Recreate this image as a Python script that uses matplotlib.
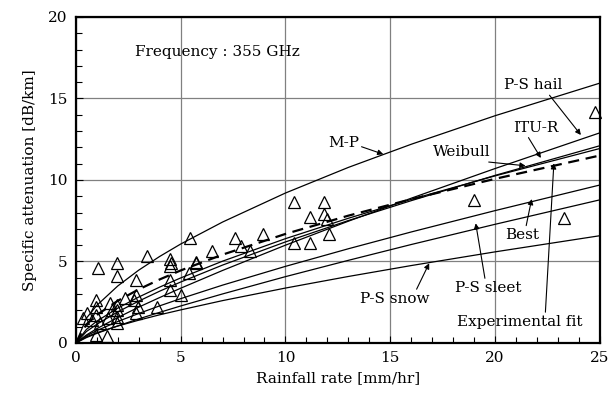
import numpy as np
import matplotlib
matplotlib.use("Agg")
import matplotlib.pyplot as plt
from matplotlib.ticker import MultipleLocator

plt.rcParams['font.family'] = ['DejaVu Serif']
plt.rcParams['font.size'] = 11

# Rainfall rate points where the model curves were read [mm/hr]
R = [0, 0.5, 1, 2, 3, 4, 5, 7, 10, 13, 16, 20, 25]

# Specific attenuation of each model [dB/km]
mp       = [0, 1.52, 2.31, 3.50, 4.47, 5.31, 6.07, 7.42, 9.20, 10.77, 12.19, 13.94, 15.94]
ps_hail  = [0, 0.49, 0.88, 1.56, 2.20, 2.79, 3.36, 4.45, 6.00, 7.47, 8.88, 10.70, 12.89]
itu_r    = [0, 0.70, 1.15, 1.91, 2.57, 3.18, 3.74, 4.78, 6.20, 7.51, 8.73, 10.28, 12.10]
weibull  = [0, 0.83, 1.34, 2.14, 2.82, 3.43, 3.99, 5.02, 6.40, 7.65, 8.81, 10.25, 11.93]
best     = [0, 0.44, 0.76, 1.32, 1.81, 2.28, 2.72, 3.55, 4.70, 5.78, 6.81, 8.12, 9.69]
ps_sleet = [0, 0.33, 0.59, 1.05, 1.48, 1.88, 2.27, 3.01, 4.07, 5.07, 6.04, 7.28, 8.78]
ps_snow  = [0, 0.38, 0.63, 1.04, 1.40, 1.73, 2.03, 2.60, 3.37, 4.08, 4.75, 5.59, 6.58]
exp_fit  = [0, 1.14, 1.72, 2.59, 3.29, 3.90, 4.45, 5.42, 6.69, 7.81, 8.82, 10.07, 11.50]

# Measured points
rain_meas = [24.76, 23.3, 19.0, 10.43, 11.83, 11.19, 11.83, 11.98, 12.06, 10.4, 11.19,
             8.92, 7.6, 7.86, 8.33, 6.49, 5.75, 5.43, 1.06, 1.94, 1.97, 3.41, 4.5, 4.48,
             5.71, 5.4, 2.89, 4.48, 4.5, 5.03, 3.87, 2.89, 2.97, 2.89, 1.94, 1.94,
             0.98, 0.98, 0.98, 0.98, 1.49, 0.51, 0.35, 1.62, 1.94, 1.97, 1.7, 0.75,
             1.14, 1.54, 2.33, 2.78, 4.52]
att_meas = [14.2, 7.67, 8.8, 8.67, 8.67, 7.75, 7.9, 7.6, 6.69, 6.11, 6.11,
            6.69, 6.42, 5.97, 5.66, 5.64, 4.99, 6.44, 4.58, 4.93, 4.11, 5.34, 5.13, 4.72,
            4.93, 4.31, 3.87, 3.87, 3.25, 2.94, 2.19, 2.94, 2.23, 1.82, 1.25, 1.61,
            2.64, 2.19, 1.72, 0.49, 0.43, 1.82, 1.51, 2.43, 2.33, 2.02, 2.02, 1.41,
            1.21, 1.51, 2.74, 2.64, 4.9]

fig = plt.figure(figsize=(6.12, 4.04), dpi=100)
ax = fig.add_axes([0.124, 0.151, 0.856, 0.807])

for y in [mp, ps_hail, itu_r, weibull, best, ps_sleet, ps_snow]:
    ax.plot(R, y, color='black', lw=0.9)
ax.plot(R, exp_fit, color='black', lw=1.6, ls=(0, (5, 3)))

ax.plot(rain_meas, att_meas, ls='none', marker='^', ms=9, mfc='none',
        mec='black', mew=0.9, clip_on=False)

ax.set_xlim(0, 25)
ax.set_ylim(0, 20)
ax.xaxis.set_major_locator(MultipleLocator(5))
ax.yaxis.set_major_locator(MultipleLocator(5))
ax.xaxis.set_minor_locator(MultipleLocator(1))
ax.yaxis.set_minor_locator(MultipleLocator(1))
ax.tick_params(which='both', direction='in', top=False, right=False)
ax.tick_params(which='major', length=5, width=0.8, pad=6)
ax.tick_params(which='minor', length=4, width=0.8)
ax.grid(True, which='major', color='#808080', lw=0.9)
for s in ax.spines.values():
    s.set_linewidth(1.6)

ax.set_xlabel("Rainfall rate [mm/hr]", labelpad=4)
ax.set_ylabel("Specific attenuation [dB/km]", labelpad=8)

ax.text(2.8, 17.85, "Frequency : 355 GHz", va='center', ha='left', fontsize=11)

arrow = dict(arrowstyle='-|>', color='black', lw=0.8, mutation_scale=8, shrinkA=0, shrinkB=0)
ax.annotate("M-P", xy=(14.67, 11.58), xytext=(12.76, 12.27), ha='center', va='center',
            arrowprops=dict(arrow, relpos=(1, 0.3)))
ax.annotate("P-S hail", xy=(24.1, 12.76), xytext=(21.8, 15.8), ha='center', va='center',
            arrowprops=dict(arrow, relpos=(0.75, 0)))
ax.annotate("ITU-R", xy=(22.19, 11.35), xytext=(21.95, 13.2), ha='center', va='center',
            arrowprops=dict(arrow, relpos=(0.3, 0)))
ax.annotate("Weibull", xy=(21.46, 10.87), xytext=(18.4, 11.7), ha='center', va='center',
            arrowprops=dict(arrow, relpos=(0.5, 0)))
ax.annotate("Best", xy=(21.75, 8.83), xytext=(21.3, 6.6), ha='center', va='center',
            arrowprops=dict(arrow, relpos=(0.6, 1)))
ax.annotate("P-S sleet", xy=(19.08, 7.34), xytext=(19.7, 3.37), ha='center', va='center',
            arrowprops=dict(arrow, relpos=(0.45, 1)))
ax.annotate("P-S snow", xy=(16.86, 4.89), xytext=(15.2, 2.7), ha='center', va='center',
            arrowprops=dict(arrow, relpos=(0.8, 1)))
ax.annotate("Experimental fit", xy=(22.81, 11.02), xytext=(21.2, 1.29), ha='center', va='center',
            arrowprops=dict(arrow, relpos=(0.7, 1)))

fig.savefig("out.png", dpi=100)
